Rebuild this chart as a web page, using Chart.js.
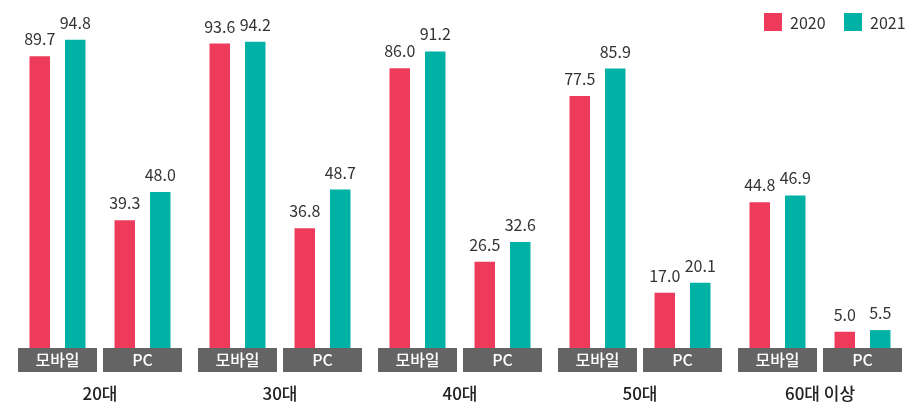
<!DOCTYPE html>
<html>
<head>
<meta charset="utf-8">
<script src="https://cdn.jsdelivr.net/npm/chart.js@4.4.0/dist/chart.umd.min.js"></script>
<style>
  html, body { margin: 0; padding: 0; background: #fff; }
  #wrap { width: 920px; height: 413px; }
</style>
</head>
<body>
<div id="wrap"><canvas id="chart"></canvas></div>
<script>
const groups = ['20대', '30대', '40대', '50대', '60대 이상'];
const devices = ['모바일', 'PC'];
const series = ['2020', '2021'];
// values per group: [모바일, PC]
const values2020 = [89.7, 39.3, 93.6, 36.8, 86.0, 26.5, 77.5, 17.0, 44.8, 5.0];
const values2021 = [94.8, 48.0, 94.2, 48.7, 91.2, 32.6, 85.9, 20.1, 46.9, 5.5];

const red = '#ee3b5b';
const teal = '#00b2a5';
const font = '"Noto Sans CJK KR", "Noto Sans", sans-serif';

// category slot positions: pairs one unit apart, groups a bit wider apart
const groupStep = 180 / 85;
const slots = [];
groups.forEach((g, gi) => {
  devices.forEach((d, di) => {
    slots.push({ x: gi * groupStep + di, device: d, group: gi });
  });
});

function points(vals) {
  return vals.map((v, i) => ({ x: slots[i].x, y: v }));
}

const labelPlugin = {
  id: 'labels',
  afterDatasetsDraw(chart) {
    const ctx = chart.ctx;
    ctx.save();
    ctx.font = '16px ' + font;
    ctx.fillStyle = '#333';
    ctx.textAlign = 'center';
    ctx.textBaseline = 'alphabetic';
    chart.data.datasets.forEach((ds, di) => {
      chart.getDatasetMeta(di).data.forEach((bar, i) => {
        ctx.fillText(ds.data[i].y.toFixed(1), bar.x, bar.y - 11);
      });
    });
    ctx.restore();
  },
  afterDraw(chart) {
    const ctx = chart.ctx;
    const xs = chart.scales.x;
    const base = chart.chartArea.bottom;
    ctx.save();
    // device boxes
    slots.forEach(s => {
      const px = xs.getPixelForValue(s.x);
      ctx.fillStyle = '#646464';
      ctx.fillRect(px - 39.5, base, 79, 24);
      ctx.fillStyle = '#fff';
      ctx.font = '500 16px ' + font;
      ctx.textAlign = 'center';
      ctx.textBaseline = 'middle';
      ctx.fillText(s.device, px, base + 12);
    });
    // group names
    groups.forEach((g, gi) => {
      const px = (xs.getPixelForValue(slots[gi * 2].x) + xs.getPixelForValue(slots[gi * 2 + 1].x)) / 2;
      ctx.fillStyle = '#222';
      ctx.font = '500 17px ' + font;
      ctx.textAlign = 'center';
      ctx.textBaseline = 'middle';
      ctx.fillText(g, px, base + 46);
    });
    // legend
    const items = [{ x: 764, c: red, t: series[0] }, { x: 844, c: teal, t: series[1] }];
    items.forEach(it => {
      ctx.fillStyle = it.c;
      ctx.fillRect(it.x, 13, 18, 18);
      ctx.fillStyle = '#333';
      ctx.font = '16px ' + font;
      ctx.textAlign = 'left';
      ctx.textBaseline = 'middle';
      ctx.fillText(it.t, it.x + 26, 23);
    });
    ctx.restore();
  }
};

new Chart(document.getElementById('chart'), {
  type: 'bar',
  data: {
    datasets: [
      { label: series[0], data: points(values2020), backgroundColor: red },
      { label: series[1], data: points(values2021), backgroundColor: teal }
    ]
  },
  options: {
    responsive: true,
    maintainAspectRatio: false,
    animation: false,
    categoryPercentage: 0.835,
    barPercentage: 0.577,
    layout: { padding: { top: 0, bottom: 65, left: 0, right: 0 } },
    scales: {
      x: {
        type: 'linear',
        offset: false,
        min: -57.5 / 85,
        max: (920 - 57.5) / 85,
        display: false
      },
      y: {
        min: 0,
        max: 107,
        display: false
      }
    },
    plugins: {
      legend: { display: false },
      tooltip: { enabled: false }
    }
  },
  plugins: [labelPlugin]
});
</script>
</body>
</html>
